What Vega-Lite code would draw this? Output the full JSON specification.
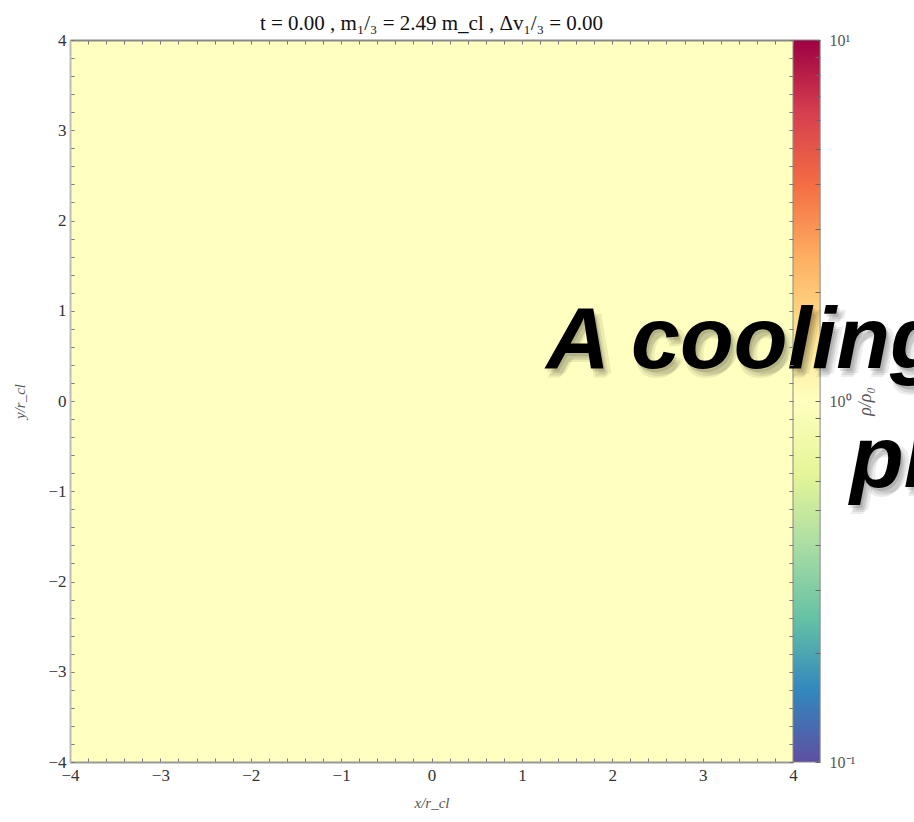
{
  "$schema": "https://vega.github.io/schema/vega-lite/v6.json",
  "autosize": {"type": "none"},
  "padding": {"left": 70, "top": 40, "right": 121, "bottom": 60},
  "width": 723,
  "height": 722,
  "background": "white",
  "config": {"view": {"stroke": null}},
  "title": {
    "text": "t = 0.00 ,   m₁/₃ = 2.49 m_cl ,   Δv₁/₃ = 0.00",
    "font": "Liberation Serif",
    "fontSize": 21,
    "fontWeight": "normal",
    "color": "#111",
    "anchor": "middle",
    "offset": -3
  },
  "datasets": {
    "field": [
      {"x0": -4, "x1": 4, "y0": -4, "y1": 4, "rho": 1}
    ],
    "colorbar": [
      {"lo": 0.1, "hi": 10}
    ],
    "caption": [
      {"x": 1.27, "y": 0.37, "text": "A cooling"},
      {"x": 4.63, "y": -0.95, "text": "pr"}
    ]
  },
  "resolve": {
    "scale": {"x": "independent", "y": "independent"},
    "axis": {"x": "independent", "y": "independent"}
  },
  "layer": [
    {
      "data": {"name": "field"},
      "mark": {"type": "rect"},
      "encoding": {
        "x": {
          "field": "x0", "type": "quantitative",
          "scale": {"domain": [-4, 4], "nice": false, "zero": false},
          "axis": {
            "orient": "bottom",
            "values": [-4,-3.8,-3.6,-3.4,-3.2,-3,-2.8,-2.6,-2.4,-2.2,-2,-1.8,-1.6,-1.4,-1.2,-1,-0.8,-0.6,-0.4,-0.2,0,0.2,0.4,0.6,0.8,1,1.2,1.4,1.6,1.8,2,2.2,2.4,2.6,2.8,3,3.2,3.4,3.6,3.8,4],
            "tickCount": 100,
            "tickMinStep": 0.2,
            "labelExpr": "datum.value == round(datum.value) ? format(datum.value, 'd') : ''",
            "labelOverlap": false,
            "labelFlush": false,
            "tickSize": -4,
            "tickColor": "#777",
            "domainColor": "#999",
            "domainWidth": 2,
            "grid": false,
            "zindex": 1,
            "labelFont": "Liberation Serif",
            "labelFontSize": 17,
            "labelColor": "#333",
            "labelPadding": 9,
            "title": "x/r_cl",
            "titleFont": "Liberation Serif",
            "titleFontStyle": "italic",
            "titleFontWeight": "normal",
            "titleFontSize": 15,
            "titleColor": "#555",
            "titlePadding": 12
          }
        },
        "x2": {"field": "x1"},
        "y": {
          "field": "y0", "type": "quantitative",
          "scale": {"domain": [-4, 4], "nice": false, "zero": false},
          "axis": {
            "orient": "left",
            "values": [-4,-3.8,-3.6,-3.4,-3.2,-3,-2.8,-2.6,-2.4,-2.2,-2,-1.8,-1.6,-1.4,-1.2,-1,-0.8,-0.6,-0.4,-0.2,0,0.2,0.4,0.6,0.8,1,1.2,1.4,1.6,1.8,2,2.2,2.4,2.6,2.8,3,3.2,3.4,3.6,3.8,4],
            "tickCount": 100,
            "tickMinStep": 0.2,
            "labelExpr": "datum.value == round(datum.value) ? format(datum.value, 'd') : ''",
            "labelOverlap": false,
            "labelFlush": false,
            "tickSize": -4,
            "tickColor": "#777",
            "domainColor": "#bbb",
            "domainWidth": 2,
            "grid": false,
            "zindex": 1,
            "labelFont": "Liberation Serif",
            "labelFontSize": 17,
            "labelColor": "#333",
            "labelPadding": 8,
            "title": "y/r_cl",
            "titleFont": "Liberation Serif",
            "titleFontStyle": "italic",
            "titleFontWeight": "normal",
            "titleFontSize": 15,
            "titleColor": "#555",
            "titlePadding": 20
          }
        },
        "y2": {"field": "y1"},
        "color": {
          "field": "rho", "type": "quantitative",
          "scale": {
            "type": "log",
            "domain": [0.1, 0.158489, 0.251189, 0.398107, 0.630957, 1, 1.584893, 2.511886, 3.981072, 6.309573, 10],
            "range": ["#5e4fa2", "#3288bd", "#66c2a5", "#abdda4", "#e6f598", "#ffffbf", "#fee08b", "#fdae61", "#f46d43", "#d53e4f", "#9e0142"],
            "interpolate": "rgb"
          },
          "legend": null
        }
      }
    },
    {
      "data": {"name": "field"},
      "mark": {"type": "rect", "opacity": 0},
      "encoding": {
        "x": {
          "field": "x0", "type": "quantitative",
          "scale": {"domain": [-4, 4], "nice": false, "zero": false},
          "axis": {
            "orient": "top",
            "values": [-4,-3.8,-3.6,-3.4,-3.2,-3,-2.8,-2.6,-2.4,-2.2,-2,-1.8,-1.6,-1.4,-1.2,-1,-0.8,-0.6,-0.4,-0.2,0,0.2,0.4,0.6,0.8,1,1.2,1.4,1.6,1.8,2,2.2,2.4,2.6,2.8,3,3.2,3.4,3.6,3.8,4],
            "tickCount": 100,
            "labels": false,
            "tickSize": -4,
            "tickColor": "#777",
            "domainColor": "#888",
            "domainWidth": 2,
            "grid": false,
            "zindex": 1,
            "title": null
          }
        },
        "x2": {"field": "x1"},
        "y": {
          "field": "y0", "type": "quantitative",
          "scale": {"domain": [-4, 4], "nice": false, "zero": false},
          "axis": {
            "orient": "right",
            "values": [-4,-3.8,-3.6,-3.4,-3.2,-3,-2.8,-2.6,-2.4,-2.2,-2,-1.8,-1.6,-1.4,-1.2,-1,-0.8,-0.6,-0.4,-0.2,0,0.2,0.4,0.6,0.8,1,1.2,1.4,1.6,1.8,2,2.2,2.4,2.6,2.8,3,3.2,3.4,3.6,3.8,4],
            "tickCount": 100,
            "labels": false,
            "tickSize": -4,
            "tickColor": "#777",
            "domain": false,
            "grid": false,
            "zindex": 1,
            "title": null
          }
        },
        "y2": {"field": "y1"}
      }
    },
    {
      "data": {"name": "colorbar"},
      "mark": {
        "type": "rect",
        "stroke": "#888",
        "strokeWidth": 1,
        "fill": {
          "gradient": "linear",
          "x1": 0, "y1": 1, "x2": 0, "y2": 0,
          "stops": [
            {"offset": 0.0, "color": "#5e4fa2"},
            {"offset": 0.1, "color": "#3288bd"},
            {"offset": 0.2, "color": "#66c2a5"},
            {"offset": 0.3, "color": "#abdda4"},
            {"offset": 0.4, "color": "#e6f598"},
            {"offset": 0.5, "color": "#ffffbf"},
            {"offset": 0.6, "color": "#fee08b"},
            {"offset": 0.7, "color": "#fdae61"},
            {"offset": 0.8, "color": "#f46d43"},
            {"offset": 0.9, "color": "#d53e4f"},
            {"offset": 1.0, "color": "#9e0142"}
          ]
        }
      },
      "encoding": {
        "x": {"datum": 4, "type": "quantitative", "scale": {"domain": [-4, 4], "nice": false, "zero": false}, "axis": null},
        "x2": {"datum": 4.3},
        "y": {
          "field": "lo", "type": "quantitative",
          "scale": {"type": "log", "domain": [0.1, 10], "nice": false},
          "axis": {
            "orient": "right",
            "offset": 27,
            "values": [0.1,0.2,0.3,0.4,0.5,0.6,0.7,0.8,0.9,1,2,3,4,5,6,7,8,9,10],
            "tickCount": 100,
            "labelExpr": "datum.value > 9.5 ? '10¹' : (datum.value > 0.95 && datum.value < 1.05) ? '10⁰' : (datum.value < 0.105) ? '10⁻¹' : ''",
            "labelOverlap": false,
            "labelFlush": false,
            "tickSize": -5,
            "tickColor": "#666",
            "domain": false,
            "grid": false,
            "zindex": 1,
            "labelFont": "Liberation Serif",
            "labelFontSize": 16,
            "labelColor": "#555",
            "labelPadding": 14,
            "title": "ρ/ρ₀",
            "titleAngle": 270,
            "titleFont": "Liberation Serif",
            "titleFontStyle": "italic",
            "titleFontWeight": "normal",
            "titleFontSize": 18,
            "titleColor": "#555",
            "titlePadding": 20
          }
        },
        "y2": {"field": "hi"}
      }
    },
    {
      "data": {"name": "caption"},
      "mark": {"type": "text", "align": "left", "baseline": "alphabetic", "font": "Liberation Sans", "fontSize": 88, "fontWeight": "bold", "fontStyle": "italic", "fill": "#000", "opacity": 0.1, "dx": 2, "dy": 3},
      "encoding": {
        "x": {"field": "x", "type": "quantitative", "scale": {"domain": [-4, 4], "nice": false, "zero": false}, "axis": null},
        "y": {"field": "y", "type": "quantitative", "scale": {"domain": [-4, 4], "nice": false, "zero": false}, "axis": null},
        "text": {"field": "text"}
      }
    },
    {
      "data": {"name": "caption"},
      "mark": {"type": "text", "align": "left", "baseline": "alphabetic", "font": "Liberation Sans", "fontSize": 88, "fontWeight": "bold", "fontStyle": "italic", "fill": "#000", "opacity": 0.08, "dx": 5, "dy": 7},
      "encoding": {
        "x": {"field": "x", "type": "quantitative", "scale": {"domain": [-4, 4], "nice": false, "zero": false}, "axis": null},
        "y": {"field": "y", "type": "quantitative", "scale": {"domain": [-4, 4], "nice": false, "zero": false}, "axis": null},
        "text": {"field": "text"}
      }
    },
    {
      "data": {"name": "caption"},
      "mark": {"type": "text", "align": "left", "baseline": "alphabetic", "font": "Liberation Sans", "fontSize": 88, "fontWeight": "bold", "fontStyle": "italic", "fill": "#000", "opacity": 0.07, "dx": 8, "dy": 5},
      "encoding": {
        "x": {"field": "x", "type": "quantitative", "scale": {"domain": [-4, 4], "nice": false, "zero": false}, "axis": null},
        "y": {"field": "y", "type": "quantitative", "scale": {"domain": [-4, 4], "nice": false, "zero": false}, "axis": null},
        "text": {"field": "text"}
      }
    },
    {
      "data": {"name": "caption"},
      "mark": {"type": "text", "align": "left", "baseline": "alphabetic", "font": "Liberation Sans", "fontSize": 88, "fontWeight": "bold", "fontStyle": "italic", "fill": "#000", "opacity": 0.07, "dx": 3, "dy": 9},
      "encoding": {
        "x": {"field": "x", "type": "quantitative", "scale": {"domain": [-4, 4], "nice": false, "zero": false}, "axis": null},
        "y": {"field": "y", "type": "quantitative", "scale": {"domain": [-4, 4], "nice": false, "zero": false}, "axis": null},
        "text": {"field": "text"}
      }
    },
    {
      "data": {"name": "caption"},
      "mark": {"type": "text", "align": "left", "baseline": "alphabetic", "font": "Liberation Sans", "fontSize": 88, "fontWeight": "bold", "fontStyle": "italic", "fill": "#000"},
      "encoding": {
        "x": {"field": "x", "type": "quantitative", "scale": {"domain": [-4, 4], "nice": false, "zero": false}, "axis": null},
        "y": {"field": "y", "type": "quantitative", "scale": {"domain": [-4, 4], "nice": false, "zero": false}, "axis": null},
        "text": {"field": "text"}
      }
    }
  ]
}
